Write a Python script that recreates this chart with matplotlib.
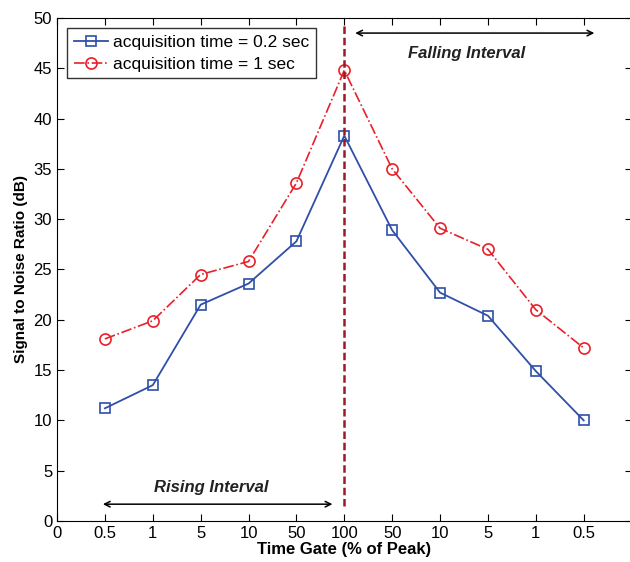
import numpy as np
import matplotlib
matplotlib.use('Agg')
import matplotlib.pyplot as plt

plt.rcParams['font.family'] = ['Liberation Sans', 'DejaVu Sans']

# time gate positions and labels (rising then falling)
tick_labels = ['0', '0.5', '1', '5', '10', '50', '100', '50', '10', '5', '1', '0.5']
gate_pos = [1, 2, 3, 4, 5, 6, 7, 8, 9, 10, 11]

snr_02 = [11.2, 13.5, 21.5, 23.6, 27.8, 38.3, 28.9, 22.7, 20.4, 14.9, 10.0]
snr_1 = [18.1, 19.9, 24.5, 25.8, 33.6, 44.8, 35.0, 29.1, 27.0, 21.0, 17.2]

blue = '#2f4fa8'
red = '#e8202a'

fig = plt.figure(figsize=(6.3, 5.62), dpi=100)
ax = fig.add_axes([0.0905, 0.073, 0.912, 0.895])

ax.plot(gate_pos, snr_02, '-', color=blue, marker='s', mfc='none', mec=blue,
        ms=7, lw=1.3, mew=1.2, label='acquisition time = 0.2 sec')
ax.plot(gate_pos, snr_1, '-.', color=red, marker='o', mfc='none', mec=red,
        ms=8, lw=1.2, mew=1.2, label='acquisition time = 1 sec')

# peak marker
ax.plot([6, 6], [1.5, 49.2], '--', color='#9c1a26', lw=1.8, dashes=(3, 1.5))

# interval arrows
ax.annotate('', xy=(11.28, 48.5), xytext=(6.17, 48.5),
            arrowprops=dict(arrowstyle='<->', color='black', lw=1.1))
ax.text(8.55, 46.5, 'Falling Interval', ha='center', va='center',
        fontsize=12, fontweight='bold', fontstyle='italic', color='#222222')
ax.annotate('', xy=(0.9, 1.67), xytext=(5.81, 1.67),
            arrowprops=dict(arrowstyle='<->', color='black', lw=1.1))
ax.text(3.22, 3.3, 'Rising Interval', ha='center', va='center',
        fontsize=12, fontweight='bold', fontstyle='italic', color='#222222')

ax.set_xlim(0, 12)
ax.set_ylim(0, 50)
ax.set_xticks(np.arange(0, 12))
ax.set_xticklabels(tick_labels)
ax.set_yticks(np.arange(0, 51, 5))
ax.tick_params(direction='in', top=True, right=True, labelsize=12, length=5)
ax.set_xlabel('Time Gate (% of Peak)', fontsize=12, fontweight='bold', labelpad=1)
ax.set_ylabel('Signal to Noise Ratio (dB)', fontsize=11, fontweight='bold', labelpad=4)

leg = ax.legend(loc='upper left', fontsize=12.5, frameon=True, fancybox=False,
                edgecolor='black', borderaxespad=0.6, handlelength=2.0,
                handletextpad=0.3, borderpad=0.35, labelspacing=0.4)
leg.get_frame().set_linewidth(1.0)

fig.savefig('out.png', dpi=100)
